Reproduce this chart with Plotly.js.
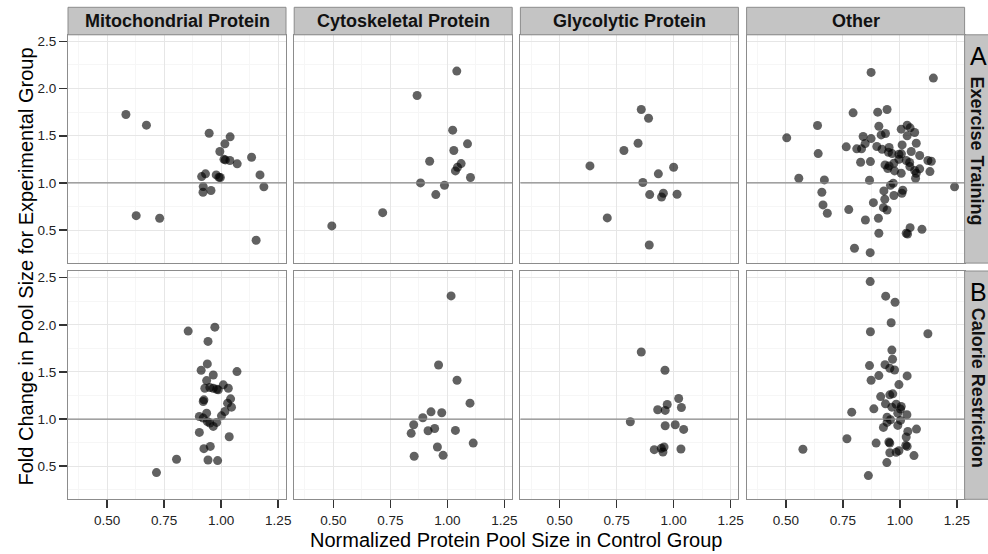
<!DOCTYPE html>
<html>
<head>
<meta charset="utf-8">
<script src="https://cdn.plot.ly/plotly-3.0.1.min.js"></script>
<style>
  html, body { margin: 0; padding: 0; background: #ffffff; }
  #chart { width: 988px; height: 554px; }
</style>
</head>
<body>
<div id="chart"></div>
<script>
// Facet labels
const proteinClasses = ['Mitochondrial Protein', 'Cytoskeletal Protein', 'Glycolytic Protein', 'Other'];
const conditions = ['Exercise Training', 'Calorie Restriction'];
const conditionTags = ['A', 'B'];
const xTickVals = [0.5, 0.75, 1.0, 1.25];
const yTickVals = [0.5, 1.0, 1.5, 2.0, 2.5];

// Exercise training: normalized control pool size (x) vs fold change (y)
const mitoExerciseX = [0.582, 0.672, 0.627, 0.730, 0.947, 1.039, 1.016, 0.994, 1.018, 1.038, 1.070, 1.133, 0.914, 0.931, 0.978, 0.990, 0.996, 0.921, 0.920, 0.955, 1.170, 1.187, 1.153, 1.012];
const mitoExerciseY = [1.725, 1.612, 0.653, 0.625, 1.527, 1.488, 1.414, 1.333, 1.244, 1.237, 1.202, 1.272, 1.067, 1.096, 1.085, 1.060, 1.057, 0.961, 0.901, 0.919, 1.085, 0.958, 0.392, 1.250];

const cytoExerciseX = [1.041, 0.867, 1.023, 1.088, 1.028, 0.922, 1.060, 1.044, 1.035, 1.101, 0.882, 0.987, 0.949, 0.716, 0.493];
const cytoExerciseY = [2.185, 1.927, 1.559, 1.414, 1.343, 1.230, 1.205, 1.166, 1.127, 1.057, 1.000, 0.975, 0.876, 0.685, 0.544];

const glycoExerciseX = [0.858, 0.890, 0.844, 0.782, 0.633, 1.000, 0.933, 0.865, 0.895, 0.955, 0.947, 1.015, 0.709, 0.893];
const glycoExerciseY = [1.778, 1.686, 1.421, 1.343, 1.180, 1.166, 1.096, 1.004, 0.876, 0.890, 0.851, 0.880, 0.629, 0.342];

const otherExerciseX = [0.874, 1.147, 0.795, 0.903, 0.944, 0.639, 0.504, 0.908, 0.839, 0.874, 0.918, 0.937, 1.006, 1.032, 1.045, 1.065, 1.032,
  0.765, 0.811, 0.832, 0.848, 0.899, 0.922, 0.953, 0.950, 1.010, 1.072, 0.642, 0.966, 0.996, 1.007, 1.050, 1.087, 1.123, 1.138,
  0.828, 0.871, 0.935, 0.953, 0.974, 0.996, 1.028, 1.043, 0.947, 0.977, 1.006, 1.044, 1.065, 1.072, 1.087, 1.132, 1.069,
  0.557, 0.669, 0.867, 0.971, 0.959, 1.240, 0.658, 0.930, 1.013, 1.009, 0.974, 0.934, 0.884, 0.663, 0.682, 0.776, 0.928, 0.944,
  0.906, 0.849, 1.045, 1.097, 1.028, 1.034, 0.908, 0.801, 0.870];
const otherExerciseY = [2.171, 2.111, 1.743, 1.750, 1.778, 1.608, 1.478, 1.601, 1.492, 1.470, 1.509, 1.524, 1.570, 1.612, 1.584, 1.534, 1.499,
  1.382, 1.361, 1.361, 1.417, 1.386, 1.357, 1.375, 1.325, 1.403, 1.421, 1.311, 1.311, 1.304, 1.308, 1.333, 1.290, 1.237, 1.230,
  1.219, 1.226, 1.191, 1.180, 1.209, 1.251, 1.237, 1.216, 1.152, 1.127, 1.103, 1.173, 1.131, 1.103, 1.149, 1.120, 1.050,
  1.050, 1.032, 1.028, 0.996, 0.975, 0.958, 0.901, 0.915, 0.922, 0.890, 0.866, 0.827, 0.791, 0.767, 0.678, 0.717, 0.738, 0.713,
  0.625, 0.607, 0.526, 0.508, 0.466, 0.459, 0.466, 0.307, 0.261];

// Calorie restriction
const mitoCalorieX = [0.855, 0.972, 0.942, 0.939, 0.912, 1.069, 0.965, 0.936, 0.928, 0.950, 0.965, 0.980, 0.987, 1.009, 1.031, 0.924, 0.921,
  1.041, 1.028, 1.045, 1.016, 1.001, 0.936, 0.904, 0.921, 0.939, 0.950, 0.980, 0.965, 0.904, 1.035, 0.924, 0.952, 0.804, 0.942, 0.984, 0.716];
const mitoCalorieY = [1.933, 1.975, 1.824, 1.585, 1.518, 1.504, 1.468, 1.408, 1.327, 1.335, 1.327, 1.317, 1.310, 1.363, 1.327, 1.204, 1.187,
  1.215, 1.169, 1.127, 1.081, 1.035, 1.063, 1.028, 1.011, 0.975, 0.958, 0.965, 0.923, 0.859, 0.813, 0.687, 0.711, 0.574, 0.567, 0.560, 0.433];

const cytoCalorieX = [1.016, 0.961, 1.042, 1.099, 0.928, 0.975, 0.892, 0.852, 0.841, 0.915, 0.944, 1.035, 1.113, 0.956, 0.981, 0.854];
const cytoCalorieY = [2.306, 1.574, 1.412, 1.169, 1.077, 1.067, 1.014, 0.940, 0.849, 0.877, 0.901, 0.880, 0.746, 0.704, 0.616, 0.606];

const glycoCalorieX = [0.858, 0.962, 1.022, 0.972, 0.930, 0.963, 1.034, 0.810, 0.963, 1.007, 1.044, 0.915, 0.946, 0.958, 0.953, 1.032];
const glycoCalorieY = [1.711, 1.518, 1.218, 1.155, 1.099, 1.092, 1.123, 0.972, 0.930, 0.940, 0.891, 0.676, 0.690, 0.704, 0.651, 0.683];

const otherCalorieX = [0.870, 0.938, 0.979, 0.962, 0.871, 1.123, 0.965, 0.968, 0.867, 0.935, 0.956, 0.977, 0.908, 0.874, 1.032, 0.996,
  0.916, 0.956, 0.969, 0.886, 0.937, 0.984, 1.006, 0.965, 0.789, 0.991, 1.031, 0.944, 0.959, 0.944, 1.003, 0.991, 0.928, 1.035,
  1.073, 1.028, 0.768, 0.896, 0.952, 0.956, 1.026, 1.032, 0.575, 0.956, 0.996, 0.984, 1.062, 0.943, 0.862, 1.003];
const otherCalorieY = [2.458, 2.303, 2.239, 2.021, 1.926, 1.905, 1.732, 1.634, 1.567, 1.577, 1.539, 1.521, 1.461, 1.412, 1.458, 1.366,
  1.239, 1.257, 1.268, 1.109, 1.162, 1.158, 1.134, 1.127, 1.074, 1.063, 1.046, 1.021, 0.993, 0.965, 0.986, 0.933, 0.912, 0.870,
  0.894, 0.810, 0.792, 0.746, 0.757, 0.746, 0.722, 0.711, 0.680, 0.644, 0.665, 0.648, 0.613, 0.539, 0.401, 1.106];

const panelX = [
  [mitoExerciseX, cytoExerciseX, glycoExerciseX, otherExerciseX],
  [mitoCalorieX, cytoCalorieX, glycoCalorieX, otherCalorieX]
];
const panelY = [
  [mitoExerciseY, cytoExerciseY, glycoExerciseY, otherExerciseY],
  [mitoCalorieY, cytoCalorieY, glycoCalorieY, otherCalorieY]
];

// Page geometry (pixels)
const W = 988, H = 554;
const colLeft = [68, 294.2, 520.4, 746.6];
const colWidth = 218;
const rowTop = [34.8, 271.0];
const rowHeight = 228.3;
const stripTop = 7.3;
const rightStripLeft = 964.6;

const px = v => v / W;
const py = v => 1 - v / H;

const FONT = 'Liberation Sans, Arial, Helvetica, sans-serif';
const borderColor = '#8c8c8c';
const stripFill = '#c4c4c4';

const traces = [];
const layout = {
  width: W, height: H,
  margin: { l: 0, r: 0, t: 0, b: 0 },
  paper_bgcolor: '#ffffff',
  plot_bgcolor: '#ffffff',
  showlegend: false,
  font: { family: FONT, color: '#000000' },
  shapes: [],
  annotations: []
};

for (let r = 0; r < conditions.length; r++) {
  for (let c = 0; c < proteinClasses.length; c++) {
    const n = r * proteinClasses.length + c + 1;
    const xName = n === 1 ? 'xaxis' : 'xaxis' + n;
    const yName = n === 1 ? 'yaxis' : 'yaxis' + n;
    const xRef = n === 1 ? 'x' : 'x' + n;
    const yRef = n === 1 ? 'y' : 'y' + n;
    const bottomRow = r === conditions.length - 1;
    const leftCol = c === 0;

    layout[xName] = {
      domain: [px(colLeft[c]), px(colLeft[c] + colWidth)],
      anchor: yRef,
      range: [0.328, 1.284],
      tickmode: 'array',
      tickvals: xTickVals,
      ticktext: xTickVals.map(v => v.toFixed(2)),
      showticklabels: bottomRow,
      ticks: bottomRow ? 'outside' : '',
      ticklen: 8, tickwidth: 1.6, tickcolor: '#333333',
      tickfont: { family: FONT, size: 13.5, color: '#222222' },
      showgrid: true, gridcolor: '#e6e6e6', gridwidth: 1,
      minor: { tickmode: 'linear', tick0: 0.375, dtick: 0.25, showgrid: true, gridcolor: '#f6f6f6', gridwidth: 1, ticks: '' },
      zeroline: false,
      showline: true, mirror: true, linecolor: borderColor, linewidth: 1,
      fixedrange: true
    };
    layout[yName] = {
      domain: [py(rowTop[r] + rowHeight), py(rowTop[r])],
      anchor: xRef,
      range: [0.15, 2.57],
      tickmode: 'array',
      tickvals: yTickVals,
      ticktext: yTickVals.map(v => v.toFixed(1)),
      showticklabels: leftCol,
      ticks: leftCol ? 'outside' : '',
      ticklen: 8, tickwidth: 1.6, tickcolor: '#333333',
      tickfont: { family: FONT, size: 13.5, color: '#222222' },
      showgrid: true, gridcolor: '#e6e6e6', gridwidth: 1,
      minor: { tickmode: 'linear', tick0: 0.25, dtick: 0.5, showgrid: true, gridcolor: '#f6f6f6', gridwidth: 1, ticks: '' },
      zeroline: false,
      showline: true, mirror: true, linecolor: borderColor, linewidth: 1,
      fixedrange: true
    };

    // No-change reference line at fold change = 1
    layout.shapes.push({
      type: 'line', xref: xRef + ' domain', yref: yRef,
      x0: 0, x1: 1, y0: 1, y1: 1,
      line: { color: '#8a8a8a', width: 1.3 },
      layer: 'above'
    });

    traces.push({
      type: 'scatter', mode: 'markers',
      x: panelX[r][c], y: panelY[r][c],
      xaxis: xRef, yaxis: yRef,
      marker: { size: 9, color: 'rgba(0,0,0,0.62)', line: { width: 0 } },
      hoverinfo: 'x+y'
    });
  }
}

// Column strips
proteinClasses.forEach((label, c) => {
  layout.shapes.push({
    type: 'rect', xref: 'paper', yref: 'paper',
    x0: px(colLeft[c]), x1: px(colLeft[c] + colWidth),
    y0: py(rowTop[0]), y1: py(stripTop),
    fillcolor: stripFill, line: { color: borderColor, width: 1 }, layer: 'above'
  });
  layout.annotations.push({
    xref: 'paper', yref: 'paper',
    x: px(colLeft[c] + colWidth / 2), y: py((stripTop + rowTop[0]) / 2),
    xanchor: 'center', yanchor: 'middle', showarrow: false,
    text: '<b>' + label + '</b>',
    font: { family: FONT, size: 18, color: '#111111' }
  });
});

// Row strips with panel tags
conditions.forEach((label, r) => {
  layout.shapes.push({
    type: 'rect', xref: 'paper', yref: 'paper',
    x0: px(rightStripLeft), x1: px(W + 4),
    y0: py(rowTop[r] + rowHeight), y1: py(rowTop[r]),
    fillcolor: stripFill, line: { color: borderColor, width: 1 }, layer: 'above'
  });
  layout.annotations.push({
    xref: 'paper', yref: 'paper',
    x: px(977.5), y: py(rowTop[r] + rowHeight / 2 + 2),
    xanchor: 'center', yanchor: 'middle', showarrow: false,
    textangle: 90,
    text: '<b>' + label + '</b>',
    font: { family: FONT, size: 18, color: '#111111' }
  });
  layout.annotations.push({
    xref: 'paper', yref: 'paper',
    x: px(978.5), y: py(rowTop[r] + 21),
    xanchor: 'center', yanchor: 'middle', showarrow: false,
    text: conditionTags[r],
    font: { family: FONT, size: 25, color: '#000000' }
  });
});

// Shared axis titles
layout.annotations.push({
  xref: 'paper', yref: 'paper',
  x: px(516), y: py(540),
  xanchor: 'center', yanchor: 'middle', showarrow: false,
  text: 'Normalized Protein Pool Size in Control Group',
  font: { family: FONT, size: 20, color: '#000000' }
});
layout.annotations.push({
  xref: 'paper', yref: 'paper',
  x: px(25), y: py(266.5),
  xanchor: 'center', yanchor: 'middle', showarrow: false,
  textangle: -90,
  text: 'Fold Change in Pool Size for Experimental Group',
  font: { family: FONT, size: 20, color: '#000000' }
});

Plotly.newPlot('chart', traces, layout, { staticPlot: true, displayModeBar: false });
</script>
</body>
</html>
